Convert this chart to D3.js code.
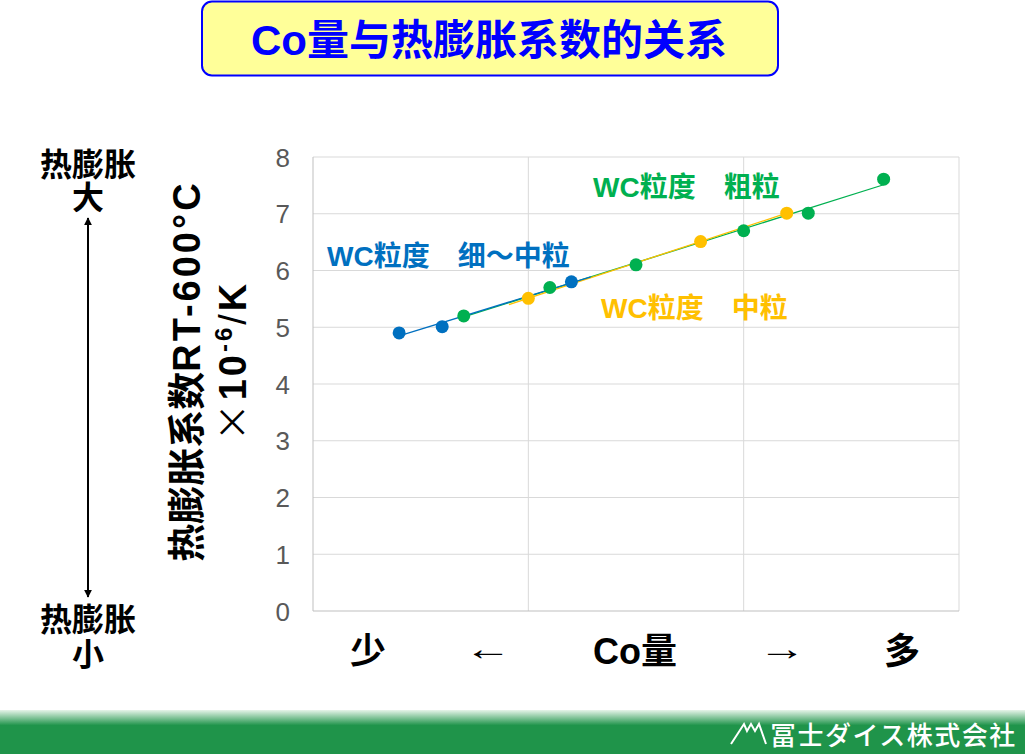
<!DOCTYPE html>
<html><head><meta charset="utf-8">
<script src="https://cdn.jsdelivr.net/npm/d3@7"></script>
<style>
body{margin:0;background:#fff;}
svg{display:block;}
text{font-family:"Liberation Sans",Arial,"Noto Sans CJK SC",sans-serif;}
</style></head>
<body><svg id="c" width="1025" height="754"></svg>
<script>
// ---- data ----
const fineX = [0.40, 0.60, 1.20];
const fineY = [4.90, 5.01, 5.80];
const mediumX = [1.00, 1.80, 2.20];
const mediumY = [5.51, 6.51, 7.01];
const coarseX = [0.70, 1.10, 1.50, 2.00, 2.30, 2.65];
const coarseY = [5.20, 5.70, 6.10, 6.70, 7.01, 7.61];
const seriesNames = ["WC粒度　细～中粒", "WC粒度　中粒", "WC粒度　粗粒"];
const seriesColors = ["#0070c0", "#ffc000", "#00b050"];
const trendBackward = [0, 0.09, 0];
const trendForward = [0.09, 0, 0];
const yTicks = [0,1,2,3,4,5,6,7,8];
const xGrid = [1,2,3];
const titleText = "Co量与热膨胀系数的关系";
const xAxisWords = ["少", "←", "Co量", "→", "多"];

const svg = d3.select("#c");
const defs = svg.append("defs");
const x = d3.scaleLinear().domain([0,3]).range([313,959]);
const y = d3.scaleLinear().domain([0,8]).range([611,157]);

// title
svg.append("rect").attr("x",202).attr("y",1.5).attr("width",576).attr("height",74)
  .attr("rx",10).attr("fill","#ffff99").attr("stroke","#0000ff").attr("stroke-width",2);
svg.append("text").attr("x",489).attr("y",55).attr("text-anchor","middle")
  .attr("font-size",42).attr("font-weight","bold").attr("fill","#0000ff").text(titleText);

// grid
const g = svg.append("g");
g.selectAll(".hg").data(yTicks.filter(d=>d>0)).join("line")
  .attr("x1",x(0)).attr("x2",x(3)).attr("y1",d=>y(d)).attr("y2",d=>y(d))
  .attr("stroke","#d9d9d9").attr("stroke-width",1);
g.selectAll(".vg").data(xGrid).join("line")
  .attr("x1",d=>x(d)).attr("x2",d=>x(d)).attr("y1",y(0)).attr("y2",y(8))
  .attr("stroke","#d9d9d9").attr("stroke-width",1);
g.append("line").attr("x1",x(0)).attr("x2",x(0)).attr("y1",y(0)).attr("y2",y(8)).attr("stroke","#bfbfbf");
g.append("line").attr("x1",x(0)).attr("x2",x(3)).attr("y1",y(0)).attr("y2",y(0)).attr("stroke","#bfbfbf");

// y axis labels
const yAxis = d3.axisLeft(y).tickValues(yTicks).tickSize(0).tickPadding(0);
const ya = svg.append("g").attr("transform","translate(290,0)").call(yAxis);
ya.select(".domain").remove();
ya.selectAll("text").attr("font-size",26).attr("fill","#595959")
  .attr("font-family","'Liberation Sans',Arial,sans-serif").attr("dy","0.35em");

// series
const series = [[fineX,fineY],[mediumX,mediumY],[coarseX,coarseY]];
function regress(xs, ys){
  const n=xs.length, mx=d3.mean(xs), my=d3.mean(ys);
  let sxy=0,sxx=0;
  for(let i=0;i<n;i++){sxy+=(xs[i]-mx)*(ys[i]-my);sxx+=(xs[i]-mx)**2;}
  const b=sxy/sxx; return {a:my-b*mx,b};
}
[2,1,0].forEach(i=>{
  const [xs,ys]=series[i];
  const r=regress(xs,ys);
  const x0=d3.min(xs)-trendBackward[i], x1=d3.max(xs)+trendForward[i];
  svg.append("line").attr("x1",x(x0)).attr("y1",y(r.a+r.b*x0))
    .attr("x2",x(x1)).attr("y2",y(r.a+r.b*x1))
    .attr("stroke",seriesColors[i]).attr("stroke-width",1.3);
});
[2,1,0].forEach(i=>{
  const [xs,ys]=series[i];
  svg.append("g").selectAll("circle").data(xs.map((v,k)=>[v,ys[k]])).join("circle")
    .attr("cx",d=>x(d[0])).attr("cy",d=>y(d[1])).attr("r",6.5).attr("fill",seriesColors[i]);
});

// series labels
const labelPos = [[327,266],[601,318],[593,197]];
seriesNames.forEach((t,i)=>{
  svg.append("text").attr("x",labelPos[i][0]).attr("y",labelPos[i][1])
    .attr("font-size",28).attr("font-weight","bold").attr("fill",seriesColors[i]).text(t);
});

// y axis title
const yt = svg.append("text").attr("transform","translate(200,371) rotate(-90)")
  .attr("text-anchor","middle").attr("font-size",38).attr("font-weight","bold").attr("fill","#000");
yt.append("tspan").text("热膨胀系数");
yt.append("tspan").attr("letter-spacing",3).text("RT-600°C");
const yt2 = svg.append("text").attr("transform","translate(246,361) rotate(-90)")
  .attr("text-anchor","middle").attr("font-size",38).attr("fill","#000").attr("letter-spacing",3);
yt2.append("tspan").attr("font-weight","normal").attr("font-family","'Noto Sans CJK SC',sans-serif").text("×");
yt2.append("tspan").attr("font-weight","bold").text("10");
yt2.append("tspan").attr("font-weight","bold").attr("font-size",24).attr("dy",-14).text("-6");
yt2.append("tspan").attr("font-weight","normal").attr("dy",14).text("/");
yt2.append("tspan").attr("font-weight","bold").text("K");

// left scale annotation
const leftTexts = [["热膨胀",176],["大",209],["热膨胀",631],["小",666]];
leftTexts.forEach(([t,yy])=>{
  svg.append("text").attr("x",88).attr("y",yy).attr("text-anchor","middle")
    .attr("font-size",32).attr("font-weight","bold").attr("fill","#000").text(t);
});
defs.append("marker").attr("id","ah").attr("viewBox","0 0 10 10").attr("refX",9).attr("refY",5)
  .attr("markerWidth",4).attr("markerHeight",4).attr("orient","auto-start-reverse")
  .append("path").attr("d","M0,0 L10,5 L0,10 Z").attr("fill","#000");
svg.append("line").attr("x1",88).attr("x2",88).attr("y1",218).attr("y2",597)
  .attr("stroke","#000").attr("stroke-width",2)
  .attr("marker-start","url(#ah)").attr("marker-end","url(#ah)");

// x axis words
const xWordPos = [368,488,635,782,902];
xAxisWords.forEach((t,i)=>{
  const arrow = (t==="←"||t==="→");
  if(arrow){
    svg.append("g").attr("transform",`translate(${xWordPos[i]},660) scale(1.4,1)`)
      .append("text").attr("x",0).attr("y",0).attr("text-anchor","middle")
      .attr("font-size",34).attr("font-weight","normal").attr("fill","#000").text(t);
  } else {
    svg.append("text").attr("x",xWordPos[i]).attr("y",664).attr("text-anchor","middle")
      .attr("font-size",36).attr("font-weight","bold").attr("fill","#000").text(t);
  }
});

// footer
const grad = defs.append("linearGradient").attr("id","fg").attr("x1",0).attr("y1",0).attr("x2",0).attr("y2",1);
grad.append("stop").attr("offset","0%").attr("stop-color","#e6f4e9");
grad.append("stop").attr("offset","35%").attr("stop-color","#1f944a");
grad.append("stop").attr("offset","100%").attr("stop-color","#1f944a");
svg.append("rect").attr("x",0).attr("y",710).attr("width",1025).attr("height",44).attr("fill","url(#fg)");
svg.append("path").attr("d","M731,744 L744,724 L747,731 L751,724 L755,731 L759,724 L766,744")
  .attr("fill","none").attr("stroke","#fff").attr("stroke-width",2);
svg.append("text").attr("x",770).attr("y",745).attr("font-size",26).attr("fill","#fff")
  .attr("font-family","'Noto Sans CJK JP',sans-serif").attr("font-weight",500)
  .attr("letter-spacing",1.5).text("冨士ダイス株式会社");
</script></body></html>
